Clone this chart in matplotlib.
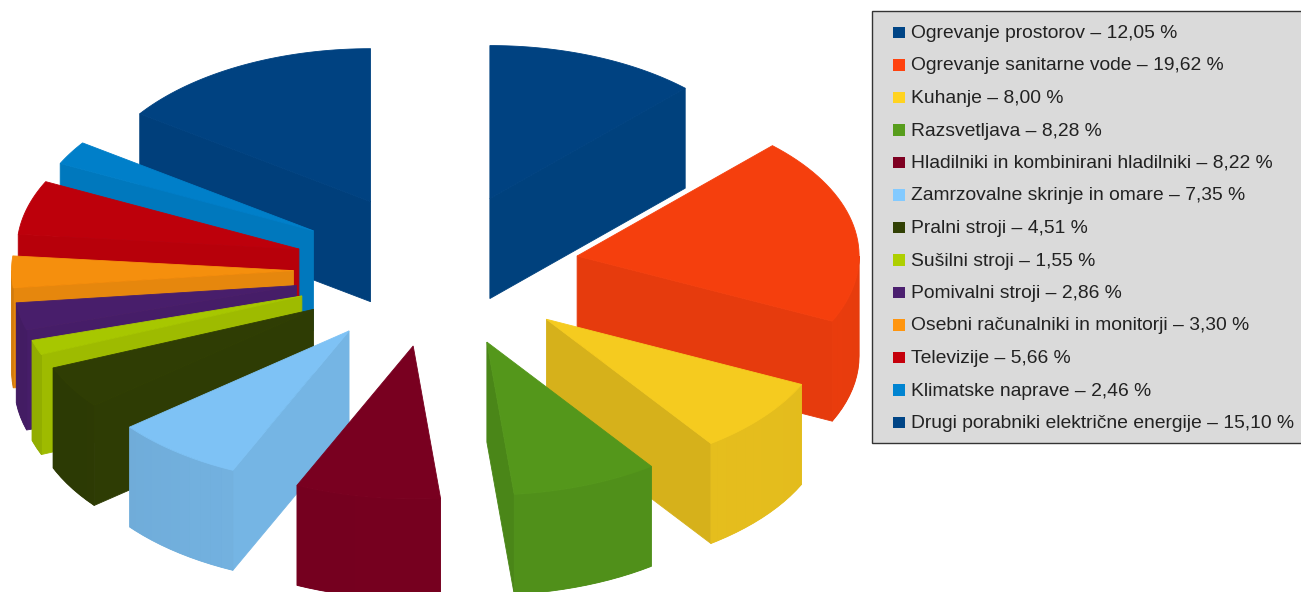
import numpy as np
import matplotlib
matplotlib.use('Agg')
import matplotlib.pyplot as plt
from matplotlib.colors import to_rgb
from matplotlib.patches import Rectangle

names = ['Ogrevanje prostorov', 'Ogrevanje sanitarne vode', 'Kuhanje', 'Razsvetljava',
         'Hladilniki in kombinirani hladilniki', 'Zamrzovalne skrinje in omare',
         'Pralni stroji', 'Sušilni stroji', 'Pomivalni stroji',
         'Osebni računalniki in monitorji', 'Televizije', 'Klimatske naprave',
         'Drugi porabniki električne energije']
values = [12.05, 19.62, 8.00, 8.28, 8.22, 7.35, 4.51, 1.55, 2.86, 3.30, 5.66, 2.46, 15.10]
colors = ['#004586', '#ff420e', '#ffd320', '#579d1c', '#7e0021', '#83caff', '#314004',
          '#aecf00', '#4b1f6f', '#ff950e', '#c5000b', '#0084d1', '#004586']

# pie geometry in pixels
cx, cy = 436.5, 270
rx, ry = 282, 153
ex, ey = 143, 77
depth = 100


def shade(col, a):
    # simple light from the front right, a is the direction the wall faces
    rgb = np.array(to_rgb(col))
    lum = rgb @ [0.3, 0.59, 0.11]
    f = 0.831 + 0.039 * np.sin(a) - 0.061 * np.cos(a)
    # dark colours lose less than bright ones
    f = 1 - (1 - f) * (0.3 + 0.7 * lum)
    return tuple(rgb * f * 0.98)


def wall(ax, xs, ys, col, lw=0.0):
    px = list(xs) + list(xs)[::-1]
    py = list(ys) + [v + depth for v in list(ys)[::-1]]
    ax.fill(px, py, color=col, lw=lw)


fig = plt.figure(figsize=(13.01, 5.92), dpi=100)
ax = fig.add_axes([0, 0, 1, 1])
ax.set_xlim(0, 1301)
ax.set_ylim(592, 0)
ax.axis('off')

shares = np.array(values) / sum(values) * 360
ends = np.cumsum(shares)
starts = ends - shares
mids = np.radians((starts + ends) / 2)
tip_x = cx + ex * np.sin(mids)
tip_y = cy - ey * np.cos(mids)

# back slices first so the front ones cover them
for i in np.argsort(tip_y):
    a0, a1 = starts[i], ends[i]
    t = np.radians(np.linspace(a0, a1, 40))
    arc_x = tip_x[i] + rx * np.sin(t)
    arc_y = tip_y[i] - ry * np.cos(t)

    # cut faces
    for ang, sign in ((a0, -1), (a1, 1)):
        r = np.radians(ang)
        if sign * np.sin(r) > 0:
            xs = [tip_x[i], tip_x[i] + rx * np.sin(r)]
            ys = [tip_y[i], tip_y[i] - ry * np.cos(r)]
            wall(ax, xs, ys, shade(colors[i], r + sign * np.pi / 2), lw=0.6)

    # outer rim, only the part turned to the viewer
    lo, hi = max(a0, 90), min(a1, 270)
    if hi > lo:
        steps = np.radians(np.arange(lo, hi + 2.5, 2.5).clip(lo, hi))
        xs = tip_x[i] + rx * np.sin(steps)
        ys = tip_y[i] - ry * np.cos(steps)
        # base colour underneath hides the joins between the strips
        wall(ax, xs, ys, shade(colors[i], np.mean(steps)), lw=0.6)
        for j in range(len(steps) - 1):
            wall(ax, xs[j:j + 2], ys[j:j + 2], shade(colors[i], (steps[j] + steps[j + 1]) / 2))

    # top surface
    top = tuple(c * 0.96 for c in to_rgb(colors[i]))
    ax.fill(np.r_[tip_x[i], arc_x], np.r_[tip_y[i], arc_y], color=top, lw=0.6)

# legend box
ax.add_patch(Rectangle((872, 11), 440, 432, facecolor='#dadada', edgecolor='#333333', lw=1))
for i, (n, v, c) in enumerate(zip(names, values, colors)):
    y = 32 + i * 32.5
    ax.add_patch(Rectangle((893, y - 5.5), 11.5, 11.5, facecolor=c, edgecolor='none'))
    label = f'{n} – {v:.2f} %'.replace('.', ',')
    ax.text(911, y + 1.5, label, va='center', ha='left', color='#222222',
            fontsize=13.9, family='Liberation Sans')

fig.savefig('out.png', dpi=100)
